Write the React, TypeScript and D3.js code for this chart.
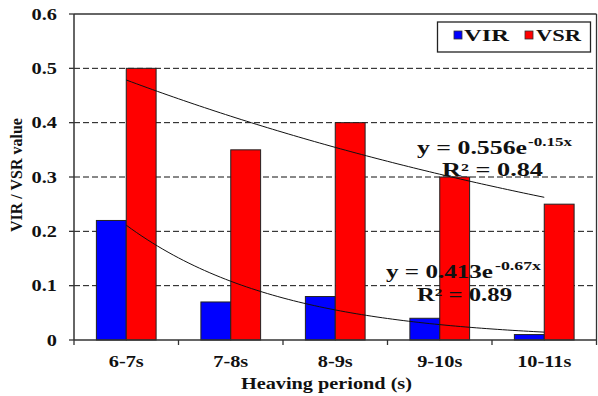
import React from "react";
import * as d3 from "d3";

const categories = ["6-7s", "7-8s", "8-9s", "9-10s", "10-11s"];
const seriesNames = ["VIR", "VSR"];
const virValues = [0.22, 0.07, 0.08, 0.04, 0.01];
const vsrValues = [0.5, 0.35, 0.4, 0.3, 0.25];
const yTicks = [0, 0.1, 0.2, 0.3, 0.4, 0.5, 0.6];
const gridTicks = [0.1, 0.2, 0.3, 0.4, 0.5];
const virFitCoef = [0.413, -0.67];
const vsrFitCoef = [0.556, -0.15];
const colors = ["#0000ff", "#ff0000"];

const W = 598;
const H = 396;
const left = 74;
const right = 596.5;
const top = 14;
const bottom = 340;
const FONT = "'Liberation Serif', 'Times New Roman', serif";
const SX = 1.27;

function T(props: any) {
  const { x, y, anchor = "middle", size = 16, sx = SX, children, ...rest } = props;
  return (
    <text
      transform={`translate(${x},${y}) scale(${sx},1)`}
      textAnchor={anchor}
      fontSize={size}
      fontWeight="bold"
      fontFamily={FONT}
      fill="#111"
      {...rest}
    >
      {children}
    </text>
  );
}

export default function App() {
  const x = d3.scaleBand<string>().domain(categories).range([left, right]).padding(0);
  const xs = d3
    .scaleBand<string>()
    .domain(seriesNames)
    .range([0, x.bandwidth()])
    .paddingInner(0)
    .paddingOuter(0.75);
  const y = d3.scaleLinear().domain([0, 0.6]).range([bottom, top]);
  const xc = d3
    .scaleLinear()
    .domain([1, categories.length])
    .range([
      (x(categories[0]) as number) + x.bandwidth() / 2,
      (x(categories[categories.length - 1]) as number) + x.bandwidth() / 2,
    ]);

  const samples = d3.range(1, categories.length + 0.001, 0.05);
  const line = d3
    .line<number[]>()
    .x((d) => xc(d[0]))
    .y((d) => y(d[1]))
    .curve(d3.curveLinear);
  const fitPath = (c: number[]) => line(samples.map((t) => [t, c[0] * Math.exp(c[1] * t)])) as string;

  const series = [virValues, vsrValues];
  const boundaries = d3.range(categories.length + 1).map((i) => left + i * x.step());

  return (
    <svg
      width={W}
      height={H}
      style={{ position: "absolute", left: 0, top: 0, background: "#fff" }}
    >
      <rect x={0} y={0} width={W} height={H} fill="#fff" />
      {/* gridlines */}
      {gridTicks.map((t) => (
        <line
          key={"g" + t}
          x1={left}
          x2={right}
          y1={y(t)}
          y2={y(t)}
          stroke="#111"
          strokeWidth={1}
          strokeDasharray="6,3"
        />
      ))}
      {/* bars */}
      {series.map((vals, si) =>
        vals.map((v, i) => (
          <rect
            key={`b${si}-${i}`}
            x={(x(categories[i]) as number) + (xs(seriesNames[si]) as number)}
            y={y(v)}
            width={xs.bandwidth()}
            height={y(0) - y(v)}
            fill={colors[si]}
            stroke="#222"
            strokeWidth={1}
          />
        ))
      )}
      {/* frame */}
      <line x1={left} x2={right} y1={top} y2={top} stroke="#333" strokeWidth={1.3} />
      <line x1={right} x2={right} y1={top} y2={bottom} stroke="#333" strokeWidth={1.3} />
      <line x1={left} x2={left} y1={top} y2={bottom} stroke="#333" strokeWidth={1.5} />
      <line x1={left} x2={right} y1={bottom} y2={bottom} stroke="#333" strokeWidth={1.5} />
      {/* y ticks */}
      {yTicks.map((t) => (
        <g key={"yt" + t}>
          <line x1={left - 5} x2={left} y1={y(t)} y2={y(t)} stroke="#333" strokeWidth={1.3} />
          <T x={57} y={y(t) + 5.5} anchor="end">
            {d3.format("")(t)}
          </T>
        </g>
      ))}
      {/* x ticks */}
      {boundaries.map((b, i) => (
        <line key={"xt" + i} x1={b} x2={b} y1={bottom} y2={bottom + 5} stroke="#333" strokeWidth={1.3} />
      ))}
      {categories.map((c) => (
        <T key={"xl" + c} x={(x(c) as number) + x.bandwidth() / 2} y={367}>
          {c}
        </T>
      ))}
      {/* trendlines */}
      <path d={fitPath(vsrFitCoef)} fill="none" stroke="#111" strokeWidth={1} />
      <path d={fitPath(virFitCoef)} fill="none" stroke="#111" strokeWidth={1} />
      {/* equations */}
      <T x={417} y={154} anchor="start" size={18} sx={1} textLength={110} lengthAdjust="spacingAndGlyphs">
        {`y = ${vsrFitCoef[0]}e`}
      </T>
      <T x={528} y={146} anchor="start" size={12} sx={1} textLength={44} lengthAdjust="spacingAndGlyphs">
        {`${vsrFitCoef[1]}x`}
      </T>
      <T x={442} y={176} anchor="start" size={18} sx={1} textLength={101} lengthAdjust="spacingAndGlyphs">
        {"R² = 0.84"}
      </T>
      <T x={386} y={278} anchor="start" size={18} sx={1} textLength={107} lengthAdjust="spacingAndGlyphs">
        {`y = ${virFitCoef[0]}e`}
      </T>
      <T x={495} y={270} anchor="start" size={12} sx={1} textLength={46} lengthAdjust="spacingAndGlyphs">
        {`${virFitCoef[1]}x`}
      </T>
      <T x={417} y={301} anchor="start" size={18} sx={1} textLength={95} lengthAdjust="spacingAndGlyphs">
        {"R² = 0.89"}
      </T>
      {/* legend */}
      <rect x={437.5} y={22} width={153} height={30} fill="#fff" stroke="#222" strokeWidth={1.3} />
      {seriesNames.map((s, i) => (
        <g key={"lg" + s}>
          <rect x={454 + i * 71} y={31} width={8} height={8} fill={colors[i]} stroke="#333" strokeWidth={0.8} />
          <T x={464 + i * 72} y={41} anchor="start" size={16} sx={1} textLength={45} lengthAdjust="spacingAndGlyphs">
            {s}
          </T>
        </g>
      ))}
      {/* axis titles */}
      <text
        transform="translate(22,175) rotate(-90)"
        textAnchor="middle"
        fontSize={16}
        fontWeight="bold"
        fontFamily={FONT}
        fill="#111"
      >
        VIR / VSR value
      </text>
      <T x={326.5} y={389} sx={1} textLength={171} lengthAdjust="spacingAndGlyphs" anchor="middle">
        Heaving periond (s)
      </T>
    </svg>
  );
}
